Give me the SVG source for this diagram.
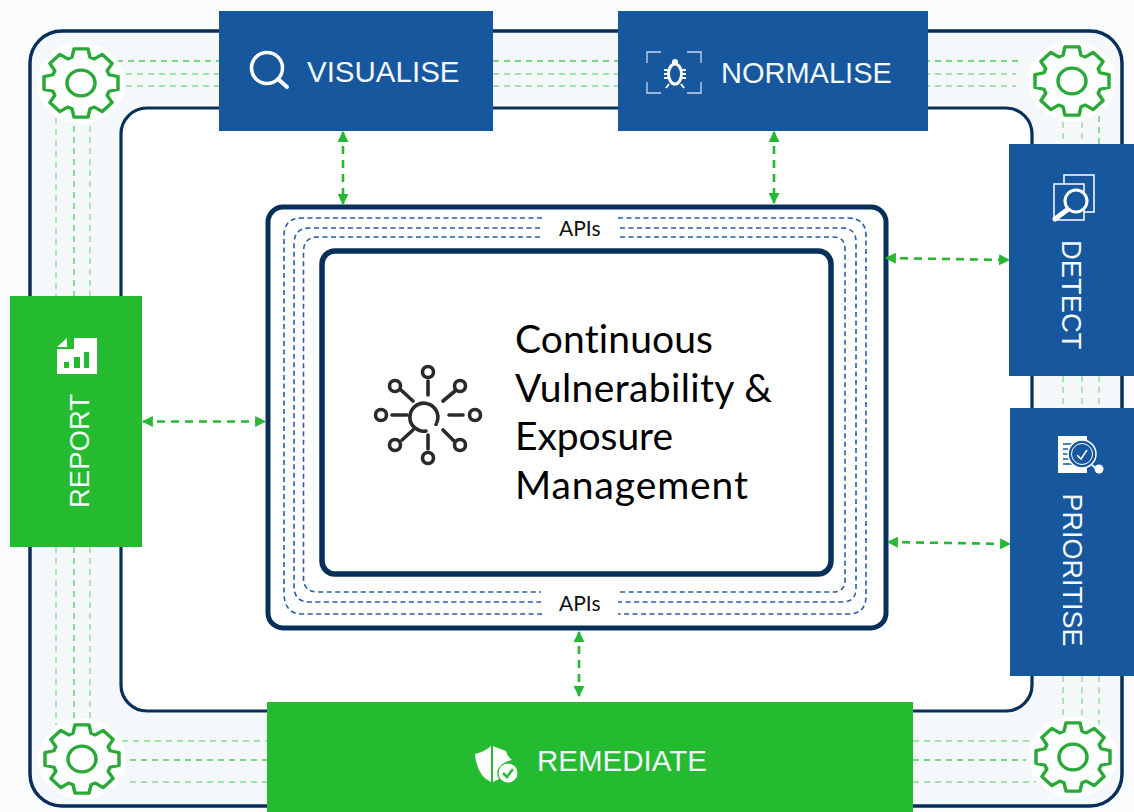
<svg xmlns="http://www.w3.org/2000/svg" width="1134" height="812" viewBox="0 0 1134 812">
<style>
.box-b{fill:#16579e}
.box-g{fill:#24bb30}
.lbl{font-family:"Liberation Sans",Arial,sans-serif;font-size:29.500px;fill:#f2f7fb}
.gear{fill:none;stroke:#2aa838;stroke-width:3.5;stroke-linejoin:round}
.halo{fill:#fff;fill-opacity:.9}
.gd1{fill:none;stroke:#52cc5e;stroke-width:1.3;stroke-dasharray:6 5}
.gd2{fill:none;stroke:#86dc8e;stroke-width:1.3;stroke-dasharray:6 5}
.api{fill:none;stroke:#2a5d9f;stroke-width:1.6;stroke-dasharray:5 3.5}
.arrow{fill:none;stroke:#27b833;stroke-width:2.6;stroke-dasharray:8 6;marker-start:url(#ah);marker-end:url(#ah)}
.ic{fill:none;stroke:#fff;stroke-width:2}
.ctr{font-family:Lato,"Open Sans",sans-serif;font-size:39px;fill:#000;font-variant-ligatures:none}
.api-t{font-family:Lato,"Open Sans",sans-serif;font-size:21px;fill:#111}
.hub{fill:none;stroke:#2a2a2a;stroke-width:3.6;stroke-linecap:round}
</style>
<defs>
<marker id="ah" viewBox="0 0 10 10" refX="9" refY="5" markerWidth="11" markerHeight="11" markerUnits="userSpaceOnUse" orient="auto-start-reverse"><path d="M0 0L10 5L0 10Z" fill="#27b833"/></marker>
<g id="gearshape">
<circle class="halo" r="44"/>
<path class="gear" d="M-9-28L-7-37L7-37L9-28L13.4-26.2L21.2-31.1L31.1-21.2L26.2-13.400L28-9L37-7L37 7L28 9L26.2 13.400L31.1 21.2L21.2 31.1L13.4 26.2L9 28L7 37L-7 37L-9 28L-13.4 26.2L-21.2 31.1L-31.1 21.2L-26.2 13.4L-28 9L-37 7L-37-7L-28-9L-26.2-13.4L-31.1-21.2L-21.2-31.1L-13.4-26.2Z"/>
<circle class="gear" r="14"/>
</g>
</defs>
<rect width="1134" height="812" fill="#f9fbfc"/>
<g id="frames">
<rect x="30" y="31" width="1092" height="775" rx="32" fill="#f5f8fa" stroke="#06305a" stroke-width="3.500"/>
<rect x="121" y="108" width="911" height="603" rx="26" fill="#fff" stroke="#06305a" stroke-width="3.200"/>
</g>
<g id="circuit-lines">
<path class="gd1" d="M117 61H219M493 61H618M924 61H1022"/>
<path class="gd2" d="M126 74H219M493 74H618M924 74H1016M126 86H219M493 86H618M924 86H1016"/>
<path class="gd2" d="M56 118V296M90 126V296M56 547V725M90 547V720"/>
<path class="gd1" d="M74 126V296M74 547V718"/>
<path class="gd2" d="M1063 122V144M1082 122V144M1063 376V408M1082 376V408M1063 676V722M1082 676V718M1099 376V408M1099 676V726"/>
<path class="gd1" d="M1099 116V144"/>
<path class="gd2" d="M122 741H267M130 782H267M913 741H1036M913 782H1036"/>
<path class="gd1" d="M130 760H267M913 760H1026"/>
</g>
<g id="gear-tl" transform="translate(81 83) scale(1 .92)"><use href="#gearshape"/></g>
<g id="gear-tr" transform="translate(1072 81) scale(1 .92)"><use href="#gearshape"/></g>
<g id="gear-bl" transform="translate(82 759) scale(1 .92)"><use href="#gearshape"/></g>
<g id="gear-br" transform="translate(1073 757) scale(1 .92)"><use href="#gearshape"/></g>
<g id="platform">
<rect x="268" y="207" width="618" height="421" rx="15" fill="#fff" stroke="#06305a" stroke-width="5"/>
<path class="api" d="M542 218H302Q284 218 284 236V592Q284 614 302 614H542"/>
<path class="api" d="M540 228H310Q294 228 294 244V586Q294 602 310 602H541"/>
<path class="api" d="M540 237H318Q303.500 237 303.500 252V578Q303.500 592 318 592H541"/>
<path class="api" d="M618 218H848Q866 218 866 236V596Q866 614 848 614H618"/>
<path class="api" d="M620 228H842Q856 228 856 242V588Q856 602 842 602H618"/>
<path class="api" d="M620 237H833Q845 237 845 249V580Q845 592 833 592H618"/>
<text class="api-t" x="559" y="236">APIs</text>
<text class="api-t" x="559" y="611">APIs</text>
</g>
<g id="core">
<rect x="322" y="251" width="509" height="323" rx="13" fill="#fff" stroke="#06305a" stroke-width="5.500"/>
<g id="hub-icon">
<path class="hub" d="M437 422A14 14 0 1 0 426 431"/>
<path class="hub" d="M436 424.500h.1"/>
<path class="hub" d="M428 395V381M443 401L455 391M449 415H463M443 430L454 441M428 435V449M413 430L402 440M407 415H392M413 401L401 390"/>
<circle class="hub" cx="428" cy="372" r="5.500"/><circle class="hub" cx="460" cy="386" r="5.500"/><circle class="hub" cx="475" cy="415" r="5.500"/><circle class="hub" cx="460" cy="445" r="5.500"/><circle class="hub" cx="428" cy="458" r="5.500"/><circle class="hub" cx="395" cy="445" r="5.500"/><circle class="hub" cx="381" cy="415" r="5.500"/><circle class="hub" cx="395" cy="386" r="5.500"/>
</g>
<text class="ctr" x="515" y="353" textLength="198">Continuous</text>
<text class="ctr" x="515" y="402" textLength="257">Vulnerability &amp;</text>
<text class="ctr" x="515" y="450" textLength="158">Exposure</text>
<text class="ctr" x="515" y="499" textLength="233">Management</text>
</g>
<g id="connectors">
<path class="arrow" d="M343 132V204"/>
<path class="arrow" d="M774 132V203"/>
<path class="arrow" d="M886 258L1009 260"/>
<path class="arrow" d="M888 542L1010 544"/>
<path class="arrow" d="M143 421.500H265"/>
<path class="arrow" d="M579 632V696"/>
</g>
<g id="visualise">
<rect class="box-b" x="219" y="11" width="274" height="120"/>
<circle cx="267" cy="68" r="15.500" fill="none" stroke="#fff" stroke-width="3.500"/>
<path d="M278 79L287 87" stroke="#fff" stroke-width="4" stroke-linecap="round"/>
<text class="lbl" x="307" y="81.500">VISUALISE</text>
</g>
<g id="normalise">
<rect class="box-b" x="618" y="11" width="310" height="120"/>
<path d="M647 63V52H661M687 52H701V63M647 82V93H661M687 93H701V82" fill="none" stroke="#c8d8ea" stroke-width="1.300"/>
<ellipse cx="675" cy="74" rx="6.500" ry="10" fill="none" stroke="#fff" stroke-width="3"/>
<circle cx="675" cy="62" r="3" fill="#fff"/>
<path d="M664 70H668M664 74H668M664 78H668M682 70H686M682 74H686M682 78H686M669 84L666 88M681 84L684 88" stroke="#fff" stroke-width="2"/>
<text class="lbl" style="font-size:29px" x="721" y="83">NORMALISE</text>
</g>
<g id="detect">
<rect class="box-b" x="1009" y="144" width="125" height="232"/>
<rect x="1064" y="175" width="30" height="37" class="ic" style="stroke-width:1.500"/>
<rect x="1054" y="184" width="30" height="36" fill="#16579e" stroke="#fff" stroke-width="1.500"/>
<circle cx="1076" cy="201" r="11" fill="#16579e" stroke="#fff" stroke-width="3"/>
<path d="M1067 210L1055 219" stroke="#fff" stroke-width="5" stroke-linecap="round"/>
<text class="lbl" style="font-size:27.400px" transform="translate(1062 240) rotate(90)">DETECT</text>
</g>
<g id="prioritise">
<rect class="box-b" x="1010" y="408" width="124" height="268"/>
<path d="M1058 436H1087V473H1058Z" fill="#fff"/>
<path d="M1063 444H1072M1063 449H1068M1063 454H1068M1063 459H1070M1063 464H1075" stroke="#16579e" stroke-width="1.500"/>
<circle cx="1082" cy="454" r="14" fill="#16579e" stroke="#fff" stroke-width="1.500"/>
<circle cx="1082" cy="454" r="10.500" fill="none" stroke="#fff" stroke-width="1"/>
<path d="M1077 455L1081 459L1087 450" fill="none" stroke="#fff" stroke-width="1.500"/>
<path d="M1092 465L1098 470" stroke="#fff" stroke-width="2"/>
<circle cx="1099" cy="469" r="4.500" fill="#fff"/>
<text class="lbl" style="font-size:27px" transform="translate(1063 493.500) rotate(90)">PRIORITISE</text>
</g>
<g id="report">
<rect class="box-g" x="10" y="296" width="132" height="251"/>
<path d="M57 349V374H97V338H74V349Z" fill="#fff"/>
<path d="M57 347L67 338V347Z" fill="#fff"/>
<path d="M64 362h5v6h-5zM74 357h6v11h-6zM84 352h5v16h-5z" fill="#24bb30"/>
<text class="lbl" style="font-size:27.500px" transform="translate(89 508) rotate(-90)">REPORT</text>
</g>
<g id="remediate">
<rect class="box-g" x="267" y="702" width="646" height="110"/>
<path d="M475 754Q486 751 491 746V782Q477 776 475 754Z" fill="#fff"/>
<path d="M493 746Q500 749 506 751Q507 756 512 760Q502 762 498 769Q496 775 499 779L493 782Z" fill="#fff"/>
<circle cx="508" cy="773" r="9.500" fill="#fff"/>
<path d="M503 773L507 777L513 769" fill="none" stroke="#24bb30" stroke-width="2.500"/>
<text class="lbl" x="537" y="771">REMEDIATE</text>
</g>
</svg>
